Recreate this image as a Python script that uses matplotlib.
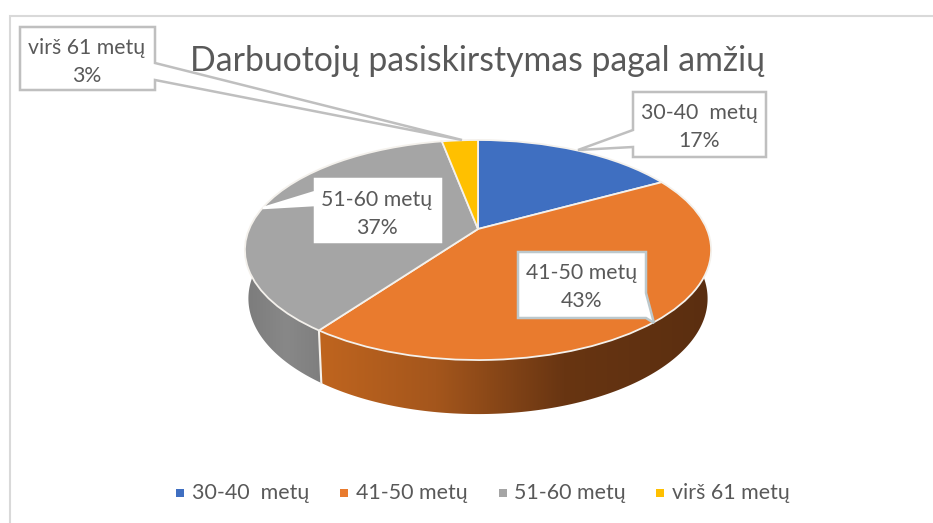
import numpy as np
import matplotlib
matplotlib.use("Agg")
import matplotlib.pyplot as plt
from matplotlib.colors import LinearSegmentedColormap
from matplotlib.patches import Polygon
from matplotlib.transforms import Transform

plt.rcParams['font.family'] = ['Lato', 'DejaVu Sans']

categories = ['30-40  metų', '41-50 metų', '51-60 metų', 'virš 61 metų']
values = [17, 43, 37, 3]
colors = ['#3F6FC1', '#E97B2E', '#A5A5A5', '#FFC000']
title = 'Darbuotojų pasiskirstymas pagal amžių'
TEXT = '#595959'

W, H = 933, 523
CX, CY, A, B, K = 478.0, 229.0, 228.8, 106.0, 0.191
DEPTH, SHRINK_X, SHRINK_Y = 47.5, 0.985, 1.05


def project(x, y, sx=1.0, sy=1.0, dy=0.0):
    d = 1 + K * y
    return CX + sx * A * x / d, CY - sy * B * y / d + dy


class Perspective(Transform):
    input_dims = 2
    output_dims = 2
    is_separable = False
    has_inverse = False

    def transform_non_affine(self, values):
        v = np.asarray(values, dtype=float)
        X, Y = project(v[:, 0], v[:, 1])
        return np.column_stack([X, Y])


fig = plt.figure(figsize=(W / 100, H / 100), dpi=100, facecolor='white')
ax = fig.add_axes([0, 0, 1, 1])

# top face
wedges, _ = ax.pie(values, colors=colors, startangle=90, counterclock=False, radius=1,
                   wedgeprops=dict(edgecolor='#F4F1EC', linewidth=1.3))
for w in wedges:
    w.set_transform(Perspective() + ax.transData)
    w.set_zorder(5)
    w.set_clip_on(False)

ax.set_aspect('auto')
ax.axis('off')


def side_polygon(t0, t1):
    t = np.radians(np.linspace(t0, t1, 160))
    xs, ys = np.sin(t), np.cos(t)
    ux, uy = project(xs, ys)
    lx, ly = project(xs, ys, SHRINK_X, SHRINK_Y, DEPTH)
    return np.column_stack([np.r_[ux, lx[::-1]], np.r_[uy, ly[::-1]]])


def gradient_side(t0, t1, stops, x0, x1):
    poly = Polygon(side_polygon(t0, t1), closed=True, fc='none', ec='none', transform=ax.transData)
    ax.add_patch(poly)
    cmap = LinearSegmentedColormap.from_list('s', stops)
    im = ax.imshow(np.linspace(0, 1, 256)[None, :], cmap=cmap, extent=(x0, x1, 430, 230),
                   aspect='auto', zorder=2, interpolation='bilinear')
    im.set_clip_path(poly)


boundary = 360 * (values[0] + values[1]) / sum(values)
gradient_side(boundary, 280, [(0, '#7A7A7A'), (0.55, '#888888'), (1, '#7E7E7E')], 240, 324)
gradient_side(75, boundary, [(0, '#C0651F'), (0.3, '#A4561C'), (0.62, '#683512'), (1, '#5A2E10')],
              316, 716)
ax.set_xlim(0, W)
ax.set_ylim(H, 0)
sb = np.radians(boundary)
p = project(np.sin(sb), np.cos(sb))
q = project(np.sin(sb), np.cos(sb), SHRINK_X, SHRINK_Y, DEPTH)
ax.plot([p[0], q[0]], [p[1], q[1]], color='#F4F1EC', lw=1.5, zorder=4)

# frame
ax.plot([10, 10, W], [H, 16, 16], color='#D9D9D9', lw=1.5, zorder=1, solid_joinstyle='miter')

# title
ax.text(477.5, 61, title, ha='center', va='center', fontsize=24.3, color=TEXT, zorder=8)

# callouts: box edges, tail, text centre, category index
callouts = [
    ([(20, 27), (155, 27), (155, 63), (462, 140), (155, 80), (155, 90), (20, 90)], 87, 62, 3, '#BFBFBF'),
    ([(633, 92), (766, 92), (766, 157), (633, 157), (633, 147), (578, 150), (633, 130)], 699, 127, 0, '#BFBFBF'),
    ([(315, 179), (441, 179), (441, 242), (315, 242), (315, 205), (263, 208), (315, 192)], 377, 214, 2, 'white'),
    ([(518, 252), (646, 252), (646, 293), (654, 323), (646, 318), (518, 318)], 582, 287, 1, '#BCC8CC'),
]
pct = [f'{v}%' for v in values]
for verts, tx, ty, idx, ec in callouts:
    ax.add_patch(Polygon(verts, closed=True, fc='white', ec=ec, lw=1.8, zorder=6, joinstyle='miter'))
    ax.text(tx, ty, f'{categories[idx]}\n{pct[idx]}', ha='center', va='center', fontsize=15.3,
            color=TEXT, linespacing=1.5, zorder=7)

# legend
marker_x = [180, 344, 503, 660]
label_x = [192, 356, 514, 672]
for mx, lx, c, lab in zip(marker_x, label_x, colors, categories):
    ax.scatter([mx], [493], marker='s', s=36, color=c, linewidths=0, zorder=7)
    ax.text(lx, 493, lab, ha='left', va='center', fontsize=15.4, color=TEXT, zorder=7)

fig.savefig('out.png', dpi=100, facecolor='white')
